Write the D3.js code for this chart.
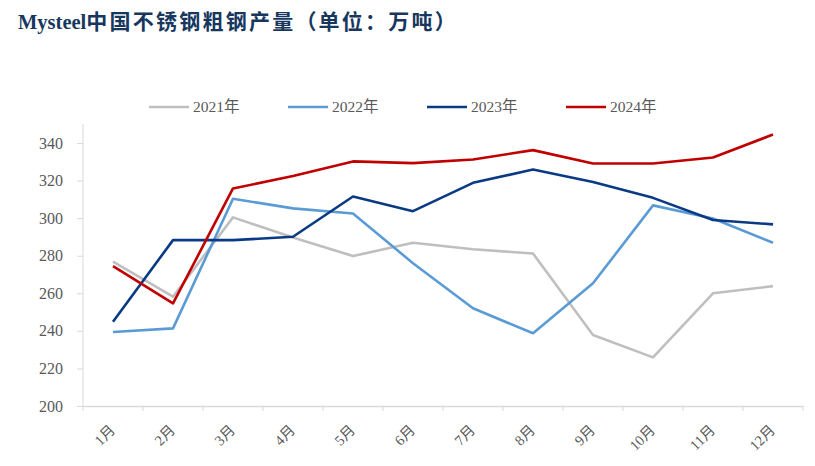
<!DOCTYPE html>
<html><head><meta charset="utf-8">
<script src="https://cdn.jsdelivr.net/npm/d3@7/dist/d3.min.js"></script>
<style>body{margin:0;background:#fff}</style>
</head><body>
<svg id="c" width="815" height="466"></svg>
<script>
const months = ["1月","2月","3月","4月","5月","6月","7月","8月","9月","10月","11月","12月"];
const yTicks = [200,220,240,260,280,300,320,340];
const seriesNames = ["2021年","2022年","2023年","2024年"];
const v2021 = [276.8,258.2,300.4,289.7,279.8,286.9,283.4,281.2,237.8,225.9,260.0,263.8];
const v2022 = [239.4,241.3,310.3,305.2,302.5,276.0,252.0,238.7,265.3,306.8,299.8,286.9];
const v2023 = [244.9,288.3,288.3,290.1,311.5,303.7,318.8,325.9,319.2,310.8,299.0,296.7];
const v2024 = [274.5,254.6,315.8,322.4,330.2,329.3,331.2,336.2,329.1,329.1,332.3,344.5];
const colors = ["#BFBFBF","#5B9BD5","#0B3A84","#C00000"];
const allSeries = [v2021,v2022,v2023,v2024];

const svg = d3.select("#c");
const serif = "'Liberation Serif','Times New Roman','Noto Sans CJK SC',serif";

const title = svg.append("text").attr("x",18).attr("y",29)
  .attr("font-family",serif).attr("font-weight","bold").attr("font-size",20.5)
  .attr("fill","#17375E");
title.append("tspan").text("Mysteel");
const cjk = title.append("tspan").attr("font-size",21).attr("letter-spacing",3)
  .text("中国不锈钢粗钢产量（单位：万吨）");
// fit CJK part to end at x≈458
const t0 = title.node().getBBox();
const extra = 458 - (t0.x + t0.width);
cjk.attr("letter-spacing", 3 + extra/16);

const x = d3.scaleBand().domain(months).range([83,803]);
const y = d3.scaleLinear().domain([200,340]).range([406,143]);

// y axis
const ya = svg.append("g").attr("transform","translate(83,0)")
  .call(d3.axisLeft(y).tickValues(yTicks).tickSize(6).tickPadding(14));
ya.select(".domain").attr("stroke","#D9D9D9").attr("d","M0,124V406");
ya.selectAll(".tick line").attr("stroke","#D9D9D9");
ya.selectAll("text").attr("font-family",serif).attr("font-size",16).attr("fill","#595959");

// x axis
const xa = svg.append("g").attr("transform","translate(0,406)")
  .call(d3.axisBottom(x).tickSize(0).tickPadding(0));
xa.select(".domain").attr("stroke","#D9D9D9").attr("stroke-width",1.5);
xa.selectAll(".tick text").remove();
const bounds = months.map(m=>x(m)).concat([x.range()[1]]);
xa.selectAll("line.b").data(bounds).enter().append("line")
  .attr("x1",d=>d).attr("x2",d=>d).attr("y1",0).attr("y2",5).attr("stroke","#D9D9D9");
svg.append("g").selectAll("text").data(months).enter().append("text")
  .attr("transform",d=>`translate(${x(d)+x.bandwidth()/2+3},${431}) rotate(-45)`)
  .attr("text-anchor","end").attr("font-family",serif).attr("font-size",14.5)
  .attr("fill","#595959").text(d=>d);

// lines
const line = d3.line().x((d,i)=>x(months[i])+x.bandwidth()/2).y(d=>y(d));
allSeries.forEach((s,k)=>{
  svg.append("path").datum(s).attr("d",line).attr("fill","none")
    .attr("stroke",colors[k]).attr("stroke-width",2.6).attr("stroke-linejoin","round");
});

// legend
const lx = [149,288,427,566];
seriesNames.forEach((n,k)=>{
  svg.append("line").attr("x1",lx[k]).attr("x2",lx[k]+40).attr("y1",107).attr("y2",107)
    .attr("stroke",colors[k]).attr("stroke-width",2.6);
  svg.append("text").attr("x",lx[k]+44).attr("y",112).attr("font-family",serif)
    .attr("font-size",15.5).attr("fill","#595959").text(n);
});
</script>
</body></html>
